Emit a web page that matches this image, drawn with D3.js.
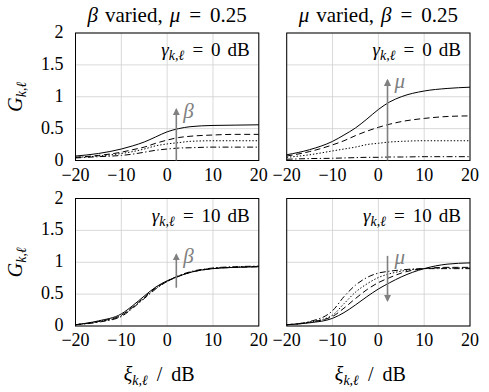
<!DOCTYPE html>
<html>
<head>
<meta charset="utf-8">
<script src="https://cdnjs.cloudflare.com/ajax/libs/d3/7.8.5/d3.min.js"></script>
<style>
  body { margin: 0; background: #fff; }
  svg text { font-family: "Liberation Serif", "DejaVu Serif", serif; }
  .grid line { stroke: #cfcfcf; stroke-width: 0.8; }
  .frame { fill: none; stroke: #000; stroke-width: 1; }
  .curve { fill: none; stroke: #000; stroke-width: 1; }
  .arrow { stroke: #808080; stroke-width: 1.6; }
</style>
</head>
<body>
<div id="chart"></div>
<script>
(function(){
    "use strict";

    //-> x axis samples (a priori SNR in dB) and tick labels
    var xiDb = [-20, -15, -10, -7.5, -5, -2.5, 0, 2.5, 5, 10, 15, 20];
    var xTicks = [-20, -10, 0, 10, 20];
    var xTickLabels = ["\u221220", "\u221210", "0", "10", "20"];
    var yTicks = [0, 0.5, 1, 1.5, 2];
    var yTickLabels = ["0", "0.5", "1", "1.5", "2"];
    var lineStyles = ["solid", "dashed", "dotted", "dashdot"];

    //-> beta varied, mu = 0.25, gamma = 0 dB
    var betaGamma0 = [
        [0.07, 0.11, 0.18, 0.23, 0.29, 0.37, 0.45, 0.50, 0.53, 0.55, 0.555, 0.56],
        [0.05, 0.08, 0.13, 0.17, 0.21, 0.27, 0.32, 0.36, 0.38, 0.40, 0.41, 0.41],
        [0.05, 0.07, 0.11, 0.14, 0.18, 0.23, 0.26, 0.28, 0.30, 0.31, 0.31, 0.31],
        [0.04, 0.06, 0.08, 0.10, 0.13, 0.16, 0.18, 0.195, 0.20, 0.21, 0.21, 0.21]
    ];
    //-> mu varied, beta = 0.25, gamma = 0 dB
    var muGamma0 = [
        [0.09, 0.17, 0.30, 0.40, 0.51, 0.65, 0.80, 0.92, 1.00, 1.09, 1.13, 1.15],
        [0.07, 0.14, 0.245, 0.31, 0.39, 0.46, 0.52, 0.57, 0.61, 0.66, 0.69, 0.70],
        [0.05, 0.09, 0.15, 0.18, 0.21, 0.25, 0.27, 0.29, 0.30, 0.31, 0.31, 0.31],
        [0.02, 0.03, 0.035, 0.04, 0.045, 0.05, 0.05, 0.055, 0.055, 0.06, 0.06, 0.06]
    ];
    //-> beta varied, mu = 0.25, gamma = 10 dB
    var betaGamma10 = [
        [0.02, 0.08, 0.19, 0.32, 0.47, 0.61, 0.71, 0.78, 0.84, 0.90, 0.92, 0.93],
        [0.02, 0.07, 0.17, 0.30, 0.45, 0.60, 0.70, 0.78, 0.84, 0.90, 0.92, 0.93],
        [0.02, 0.07, 0.16, 0.29, 0.44, 0.59, 0.70, 0.78, 0.84, 0.905, 0.925, 0.935],
        [0.02, 0.06, 0.15, 0.28, 0.43, 0.58, 0.70, 0.79, 0.85, 0.91, 0.93, 0.94]
    ];
    //-> mu varied, beta = 0.25, gamma = 10 dB
    var muGamma10 = [
        [0.02, 0.05, 0.12, 0.21, 0.33, 0.46, 0.58, 0.68, 0.77, 0.90, 0.97, 0.99],
        [0.02, 0.06, 0.15, 0.28, 0.43, 0.57, 0.68, 0.76, 0.83, 0.90, 0.92, 0.92],
        [0.02, 0.06, 0.17, 0.35, 0.53, 0.66, 0.76, 0.82, 0.86, 0.90, 0.91, 0.91],
        [0.02, 0.07, 0.24, 0.46, 0.64, 0.76, 0.83, 0.86, 0.88, 0.90, 0.90, 0.90]
    ];

    //-> arrows: [xi, from, to] and label
    var panels = [
        { data: betaGamma0,  col: 0, row: 0, gamma: "0",  arrow: [2, 0, 0.8],   sym: "\u03b2" },
        { data: muGamma0,    col: 1, row: 0, gamma: "0",  arrow: [2, 0, 1.26],  sym: "\u03bc" },
        { data: betaGamma10, col: 0, row: 1, gamma: "10", arrow: [2, 0.6, 1.12], sym: "\u03b2" },
        { data: muGamma10,   col: 1, row: 1, gamma: "10", arrow: [2, 1.1, 0.4],  sym: "\u03bc" }
    ];

    var width = 489, height = 392,
        pw = 183.3, ph = 127.5,
        colX = [75.5, 286.7],
        rowY = [33, 198.5];

    //-> dash pattern and stroke width for each line style
    var styles = {
        solid:   { dash: null, w: 1 },
        dashed:  { dash: "6,3.5", w: 1 },
        dotted:  { dash: "1.4,1.9", w: 1.5 },
        dashdot: { dash: "6,2.5,1.3,2.5", w: 1 }
    };

    var x = d3.scaleLinear().domain([-20, 20]).range([0, pw]),
        y = d3.scaleLinear().domain([0, 2]).range([ph, 0]);

    var line = d3.line()
        .x(function(d) { return x(d[0]); })
        .y(function(d) { return y(d[1]); })
        .curve(d3.curveMonotoneX);

    var svg = d3.select("#chart").append("svg")
        .attr("width", width)
        .attr("height", height);

    svg.append("defs").append("marker")
        .attr("id", "head")
        .attr("viewBox", "0 0 10 10")
        .attr("refX", 8).attr("refY", 5)
        .attr("markerWidth", 4.5).attr("markerHeight", 4.5)
        .attr("markerUnits", "strokeWidth")
        .attr("orient", "auto")
        .append("path")
        .attr("d", "M0,0 L10,5 L0,10 Z")
        .attr("fill", "#808080");

    panels.forEach(function(p) {
        var g = svg.append("g")
            .attr("transform", "translate(" + colX[p.col] + "," + rowY[p.row] + ")");

        //-> grid
        var grid = g.append("g").attr("class", "grid");
        grid.selectAll("line.v").data(xTicks).enter().append("line")
            .attr("x1", function(d) { return x(d); }).attr("x2", function(d) { return x(d); })
            .attr("y1", 0).attr("y2", ph);
        grid.selectAll("line.h").data(yTicks).enter().append("line")
            .attr("x1", 0).attr("x2", pw)
            .attr("y1", function(d) { return y(d); }).attr("y2", function(d) { return y(d); });

        //-> curves
        p.data.forEach(function(vals, i) {
            var pts = xiDb.map(function(v, j) { return [v, vals[j]]; }),
                st = styles[lineStyles[i]];
            g.append("path")
                .datum(pts)
                .attr("class", "curve")
                .attr("stroke-dasharray", st.dash)
                .attr("stroke-width", st.w)
                .attr("d", line);
        });

        //-> frame
        g.append("rect").attr("class", "frame")
            .attr("x", 0).attr("y", 0).attr("width", pw).attr("height", ph);

        //-> x tick labels
        g.selectAll("text.xt").data(xTicks).enter().append("text")
            .attr("x", function(d) { return x(d); })
            .attr("y", ph + 20)
            .attr("text-anchor", "middle")
            .style("font-size", "18px")
            .text(function(d, i) { return xTickLabels[i]; });

        //-> y tick labels only on the left column
        if (p.col === 0) {
            g.selectAll("text.yt").data(yTicks).enter().append("text")
                .attr("x", -12)
                .attr("y", function(d) { return y(d) + 5; })
                .attr("text-anchor", "end")
                .style("font-size", "18px")
                .text(function(d, i) { return yTickLabels[i]; });

            var yl = g.append("text")
                .attr("text-anchor", "middle")
                .attr("transform", "translate(-54," + (ph / 2) + ")rotate(-90)")
                .style("font-size", "20px");
            yl.append("tspan").style("font-style", "italic").text("G");
            yl.append("tspan").style("font-style", "italic").style("font-size", "14px")
                .attr("dy", 4).text("k,\u2113");
        }

        //-> gamma annotation
        var gt = g.append("text")
            .attr("x", pw - 9).attr("y", 23)
            .attr("text-anchor", "end")
            .style("font-size", "19px");
        gt.append("tspan").style("font-style", "italic").text("\u03b3");
        gt.append("tspan").style("font-style", "italic").style("font-size", "14px")
            .attr("dy", 4).text("k,\u2113");
        gt.append("tspan").attr("dy", -4).attr("dx", 8).text("=");
        gt.append("tspan").attr("dx", 8).text(p.gamma);
        gt.append("tspan").attr("dx", 7).text("dB");

        //-> arrow
        g.append("line").attr("class", "arrow")
            .attr("x1", x(p.arrow[0])).attr("x2", x(p.arrow[0]))
            .attr("y1", y(p.arrow[1])).attr("y2", y(p.arrow[2]))
            .attr("marker-end", "url(#head)");
        g.append("text")
            .attr("x", x(p.arrow[0]) + 7)
            .attr("y", y(Math.max(p.arrow[1], p.arrow[2])) + 8)
            .style("font-size", "21px")
            .style("font-style", "italic")
            .style("fill", "#808080")
            .text(p.sym);

        //-> x axis label on bottom row
        if (p.row === 1) {
            var xl = g.append("text")
                .attr("x", pw / 2 - 8).attr("y", ph + 55)
                .attr("text-anchor", "middle")
                .style("font-size", "20px");
            xl.append("tspan").style("font-style", "italic").text("\u03be");
            xl.append("tspan").style("font-style", "italic").style("font-size", "14px")
                .attr("dy", 4).text("k,\u2113");
            xl.append("tspan").attr("dy", -4).attr("dx", 9).text("/");
            xl.append("tspan").attr("dx", 9).text("dB");
        }
    });

    //-> column titles
    var titles = [["\u03b2", "varied,", "\u03bc", "=", "0.25"], ["\u03bc", "varied,", "\u03b2", "=", "0.25"]];
    titles.forEach(function(t, c) {
        var tt = svg.append("text")
            .attr("x", colX[c] + pw / 2)
            .attr("y", 22)
            .attr("text-anchor", "middle")
            .style("font-size", "21px");
        t.forEach(function(s, i) {
            tt.append("tspan")
                .attr("dx", i === 0 ? 0 : (i >= 3 ? 9 : 7))
                .style("font-style", (i === 0 || i === 2) ? "italic" : "normal")
                .text(s);
        });
    });
})();
</script>
</body>
</html>
